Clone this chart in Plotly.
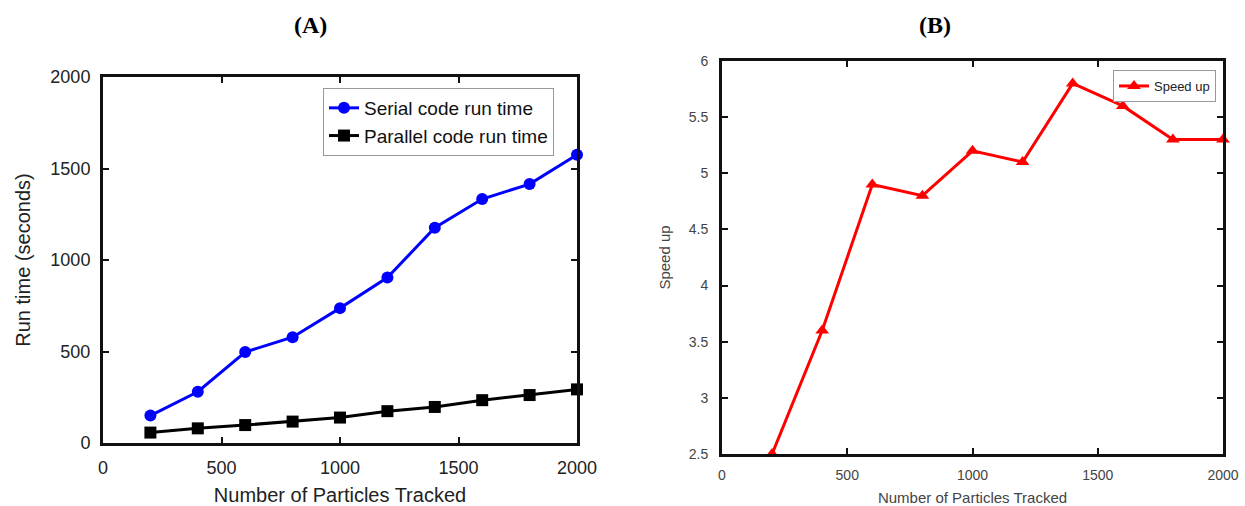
import plotly.graph_objects as go

particles = [200, 400, 600, 800, 1000, 1200, 1400, 1600, 1800, 2000]
serial_runtime = [150, 280, 497, 578, 737, 904, 1176, 1333, 1415, 1575]
parallel_runtime = [57, 80, 98, 117, 139, 174, 197, 234, 262, 293]
speed_up = [2.5, 3.6, 4.9, 4.8, 5.2, 5.1, 5.8, 5.6, 5.3, 5.3]

left_ticks = [0, 500, 1000, 1500, 2000]
right_xticks = [0, 500, 1000, 1500, 2000]
right_yticks = [2.5, 3, 3.5, 4, 4.5, 5, 5.5, 6]

W, H = 1245, 506

def px_x(a, b):
    return [a / W, b / W]

def px_y(top, bottom):
    return [1 - bottom / H, 1 - top / H]

fig = go.Figure()

fig.add_trace(go.Scatter(
    x=particles, y=serial_runtime, name="Serial code run time",
    mode="lines+markers", line=dict(color="#0000ff", width=3),
    marker=dict(symbol="circle", size=12, color="#0000ff"),
    xaxis="x", yaxis="y", legend="legend", cliponaxis=False))
fig.add_trace(go.Scatter(
    x=particles, y=parallel_runtime, name="Parallel code run time",
    mode="lines+markers", line=dict(color="#000000", width=3),
    marker=dict(symbol="square", size=12, color="#000000"),
    xaxis="x", yaxis="y", legend="legend", cliponaxis=False))
fig.add_trace(go.Scatter(
    x=particles, y=speed_up, name="Speed up",
    mode="lines+markers", line=dict(color="#ff0000", width=3),
    marker=dict(symbol="triangle-up", size=12, color="#ff0000"),
    xaxis="x2", yaxis="y2", legend="legend2", cliponaxis=False))

axis_common = dict(showline=True, linecolor="#111111", linewidth=3, mirror="ticks",
                   ticks="inside", ticklen=6, tickwidth=2, tickcolor="#111111",
                   showgrid=False, zeroline=False, automargin=False)

fig.update_layout(
    width=W, height=H,
    margin=dict(l=0, r=0, t=0, b=0, pad=0, autoexpand=False),
    paper_bgcolor="white", plot_bgcolor="white",
    font=dict(family="Liberation Sans, Arial, sans-serif"),
    xaxis=dict(domain=px_x(103, 577), range=[0, 2000], tickvals=left_ticks,
               anchor="y", tickfont=dict(size=18, color="#222222"), ticklabelstandoff=6,
               title=dict(text="Number of Particles Tracked", font=dict(size=20, color="#222222")),
               **axis_common),
    yaxis=dict(domain=px_y(77, 443), range=[0, 2000], tickvals=left_ticks,
               anchor="x", tickfont=dict(size=18, color="#222222"), ticklabelstandoff=6,
               title=dict(text="Run time (seconds)", font=dict(size=20, color="#222222")),
               **axis_common),
    xaxis2=dict(domain=px_x(722, 1223), range=[0, 2000], tickvals=right_xticks,
                anchor="y2", tickfont=dict(size=14, color="#444444"), ticklabelstandoff=6,
                title=dict(text="Number of Particles Tracked", font=dict(size=15, color="#444444")),
                **axis_common),
    yaxis2=dict(domain=px_y(61, 454), range=[2.5, 6], tickvals=right_yticks,
                anchor="x2", tickfont=dict(size=14, color="#444444"), ticklabelstandoff=8,
                title=dict(text="Speed up", font=dict(size=15, color="#444444")),
                **axis_common),
    legend=dict(x=323 / W, y=1 - 88 / H, xanchor="left", yanchor="top",
                bgcolor="white", bordercolor="#999999", borderwidth=1,
                font=dict(size=19, color="#111111"), itemwidth=30, tracegroupgap=0),
    legend2=dict(x=1113 / W, y=1 - 70 / H, xanchor="left", yanchor="top",
                 bgcolor="white", bordercolor="#999999", borderwidth=1,
                 font=dict(size=13, color="#222222"), itemwidth=30),
    showlegend=True,
    annotations=[
        dict(text="<b>(A)</b>", x=310 / W, y=1 - 25 / H, xref="paper", yref="paper",
             xanchor="center", yanchor="middle", showarrow=False,
             font=dict(family="Liberation Serif, DejaVu Serif, serif", size=24, color="black")),
        dict(text="<b>(B)</b>", x=935 / W, y=1 - 25 / H, xref="paper", yref="paper",
             xanchor="center", yanchor="middle", showarrow=False,
             font=dict(family="Liberation Serif, DejaVu Serif, serif", size=24, color="black")),
    ],
)

fig.write_html("out.html",
               config={"displayModeBar": False},
               post_script="document.body.style.margin='0';document.body.style.overflow='hidden';")
